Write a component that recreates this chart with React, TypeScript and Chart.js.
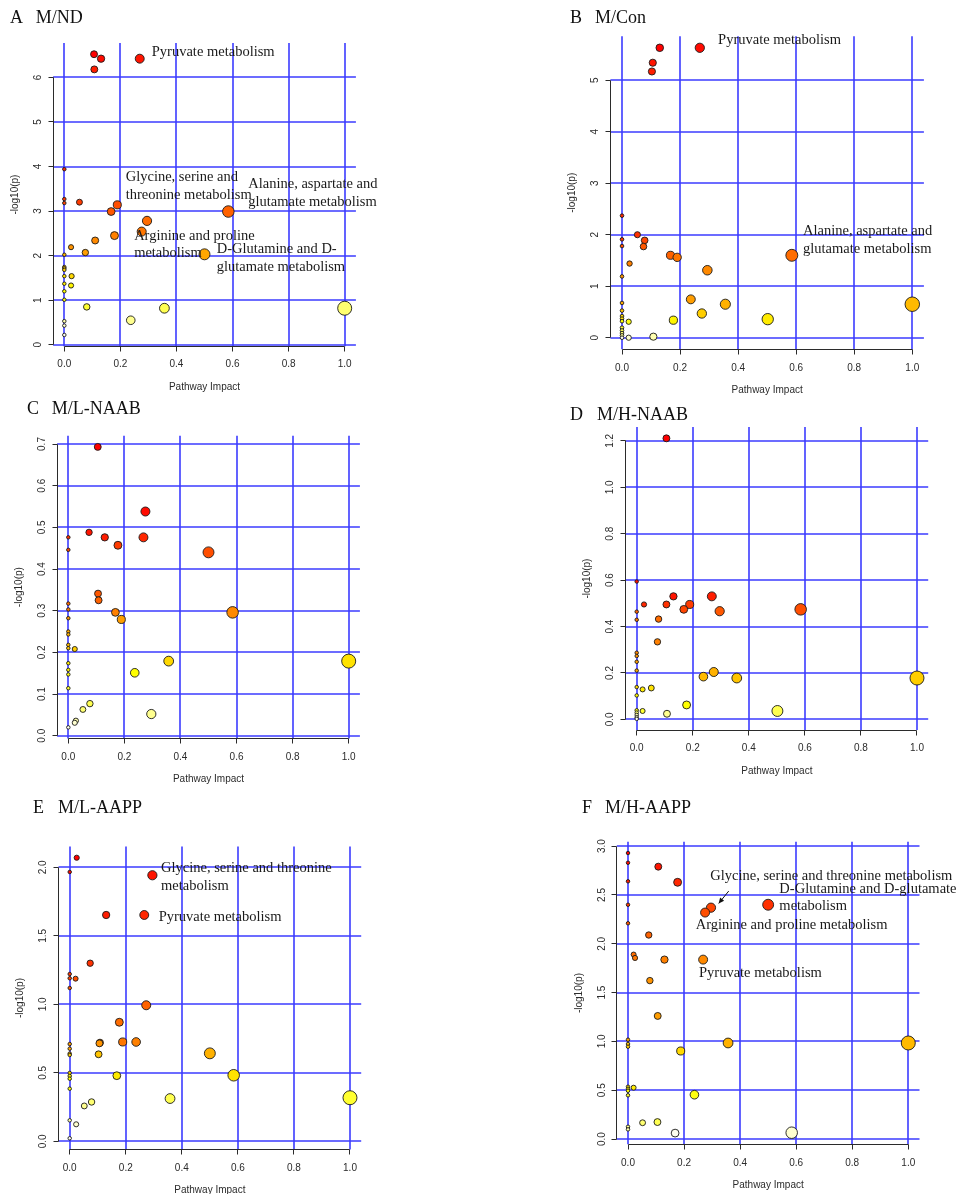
import React, { useEffect, useRef } from "react";
import { Chart, registerables } from "chart.js";

Chart.register(...registerables);

// Pathway impact ticks shared by every panel
const impactTicks = [0, 0.2, 0.4, 0.6, 0.8, 1.0];

// A  M/ND
const mndImpact = [0.106, 0.131, 0.269, 0.107, 0.054, 0.189, 0.167, 0.585, 0.295, 0.276, 0.179, 0.110, 0.024, 0.075, 0.500, 0.026, 0.024, 0.080, 0.357, 1.000, 0.237, 0, 0, 0, 0, 0, 0, 0, 0, 0, 0, 0, 0, 0, 0];
const mndLogP = [6.52, 6.42, 6.42, 6.18, 3.20, 3.14, 2.99, 2.99, 2.78, 2.54, 2.45, 2.34, 2.19, 2.07, 2.03, 1.54, 1.33, 0.85, 0.82, 0.82, 0.55, 3.94, 3.27, 3.18, 2.02, 1.745, 1.715, 1.68, 1.54, 1.37, 1.20, 1.01, 0.53, 0.43, 0.22];
const mndYTicks = [0, 1, 2, 3, 4, 5, 6];

// B  M/Con
const mconImpact = [0.130, 0.268, 0.106, 0.103, 0.053, 0.078, 0.074, 0.026, 0.167, 0.190, 0.294, 0.585, 0.237, 0.356, 0.275, 0.502, 1.000, 0.177, 0.023, 0.023, 0.108, 0, 0, 0, 0, 0, 0, 0, 0, 0, 0, 0, 0, 0, 0];
const mconLogP = [5.63, 5.63, 5.34, 5.17, 2.00, 1.89, 1.77, 1.44, 1.60, 1.56, 1.31, 1.60, 0.745, 0.65, 0.47, 0.36, 0.65, 0.34, 0.31, 0.00, 0.02, 2.37, 1.91, 1.78, 1.19, 0.675, 0.526, 0.42, 0.37, 0.32, 0.195, 0.14, 0.09, 0.045, 0.0];
const mconYTicks = [0, 1, 2, 3, 4, 5];

// C  M/L-NAAB
const mlnImpact = [0.105, 0.275, 0.074, 0.130, 0.268, 0.177, 0.500, 0.106, 0.108, 0.168, 0.586, 0.189, 0.023, 0.358, 1.000, 0.237, 0.077, 0.052, 0.296, 0.027, 0.023, 0, 0, 0, 0, 0, 0, 0, 0, 0, 0, 0, 0, 0, 0];
const mlnLogP = [0.693, 0.538, 0.488, 0.476, 0.476, 0.457, 0.440, 0.341, 0.325, 0.296, 0.296, 0.279, 0.208, 0.179, 0.179, 0.151, 0.077, 0.063, 0.052, 0.036, 0.031, 0.476, 0.446, 0.317, 0.303, 0.282, 0.250, 0.243, 0.218, 0.210, 0.174, 0.158, 0.147, 0.114, 0.020];
const mlnYTicks = [0, 0.1, 0.2, 0.3, 0.4, 0.5, 0.6, 0.7];

// D  M/H-NAAB
const mhnImpact = [0.106, 0.131, 0.268, 0.026, 0.106, 0.189, 0.168, 0.585, 0.296, 0.078, 0.074, 0.275, 0.238, 0.357, 1.000, 0.052, 0.021, 0.178, 0.021, 0.108, 0.502, 0, 0, 0, 0, 0, 0, 0, 0, 0, 0, 0, 0, 0, 0];
const mhnLogP = [1.211, 0.530, 0.530, 0.495, 0.495, 0.495, 0.474, 0.474, 0.466, 0.432, 0.334, 0.204, 0.184, 0.178, 0.178, 0.135, 0.129, 0.062, 0.036, 0.024, 0.036, 0.594, 0.464, 0.429, 0.287, 0.273, 0.248, 0.210, 0.139, 0.103, 0.039, 0.029, 0.019, 0.009, 0.002];
const mhnYTicks = [0, 0.2, 0.4, 0.6, 0.8, 1.0, 1.2];

// E  M/L-AAPP
const mlaImpact = [0.025, 0.295, 0.130, 0.266, 0.073, 0.021, 0.273, 0.177, 0.106, 0.108, 0.189, 0.237, 0.103, 0.500, 0.168, 0.585, 0.358, 1.000, 0.078, 0.052, 0.023, 0, 0, 0, 0, 0, 0, 0, 0, 0, 0, 0, 0, 0, 0];
const mlaLogP = [2.070, 1.942, 1.652, 1.652, 1.300, 1.187, 0.993, 0.869, 0.715, 0.720, 0.725, 0.725, 0.635, 0.642, 0.479, 0.482, 0.312, 0.318, 0.287, 0.258, 0.124, 1.966, 1.221, 1.190, 1.119, 0.710, 0.676, 0.640, 0.630, 0.499, 0.477, 0.457, 0.384, 0.153, 0.022];
const mlaYTicks = [0, 0.5, 1.0, 1.5, 2.0];

// F  M/H-AAPP
const mhaImpact = [0.108, 0.177, 0.500, 0.296, 0.275, 0.074, 0.020, 0.025, 0.130, 0.268, 0.078, 0.106, 0.357, 1.000, 0.188, 0.020, 0.237, 0.052, 0.105, 0.168, 0.584, 0, 0, 0, 0, 0, 0, 0, 0, 0, 0, 0, 0, 0, 0];
const mhaLogP = [2.79, 2.63, 2.40, 2.37, 2.32, 2.09, 1.89, 1.855, 1.838, 1.838, 1.623, 1.261, 0.984, 0.984, 0.902, 0.526, 0.454, 0.167, 0.174, 0.061, 0.065, 2.93, 2.83, 2.64, 2.40, 2.21, 1.018, 0.974, 0.946, 0.536, 0.515, 0.495, 0.448, 0.126, 0.099];
const mhaYTicks = [0, 0.5, 1.0, 1.5, 2.0, 2.5, 3.0];

type Note = { lines: string[]; x: number; y: number };
type Arrow = { from: [number, number]; to: [number, number] };

// Pathway name labels, anchored in data units (left edge, vertical middle)
const mndNotes: Note[] = [
  { lines: ["Pyruvate metabolism"], x: 0.312, y: 6.575 },
  { lines: ["Glycine, serine and", "threonine metabolism"], x: 0.219, y: 3.56 },
  { lines: ["Alanine, aspartate and", "glutamate metabolism"], x: 0.656, y: 3.4 },
  { lines: ["Arginine and proline", "metabolism"], x: 0.249, y: 2.243 },
  { lines: ["D-Glutamine and D-", "glutamate metabolism"], x: 0.5435, y: 1.94 },
];
const mconNotes: Note[] = [
  { lines: ["Pyruvate metabolism"], x: 0.331, y: 5.77 },
  { lines: ["Alanine, aspartate and", "glutamate metabolism"], x: 0.6235, y: 1.887 },
];
const mlaNotes: Note[] = [
  { lines: ["Glycine, serine and threonine", "metabolism"], x: 0.3257, y: 1.928 },
  { lines: ["Pyruvate metabolism"], x: 0.3175, y: 1.635 },
];
const mhaNotes: Note[] = [
  { lines: ["Glycine, serine and threonine metabolism"], x: 0.2937, y: 2.688 },
  { lines: ["D-Glutamine and D-glutamate", "metabolism"], x: 0.54, y: 2.471 },
  { lines: ["Arginine and proline metabolism"], x: 0.2414, y: 2.193 },
  { lines: ["Pyruvate metabolism"], x: 0.2533, y: 1.704 },
];
const mhaArrow: Arrow = { from: [0.3593, 2.54], to: [0.3236, 2.414] };

type Panel = {
  letter: string;
  name: string;
  impact: number[];
  logp: number[];
  yTicks: number[];
  yDigits: number;
  notes: Note[];
  arrow?: Arrow;
  frame: { x: number; y: number; w: number; h: number };
  box: { l: number; t: number; r: number; b: number };
  title: { lx: number; nx: number; by: number };
};

const panels: Panel[] = [
  {
    letter: "A", name: "M/ND", impact: mndImpact, logp: mndLogP, yTicks: mndYTicks, yDigits: 0, notes: mndNotes,
    frame: { x: 0, y: 0, w: 479, h: 398 },
    box: { l: 53.1, t: 43.0, r: 355.9, b: 346.2 },
    title: { lx: 10, nx: 35.7, by: 23.3 },
  },
  {
    letter: "B", name: "M/Con", impact: mconImpact, logp: mconLogP, yTicks: mconYTicks, yDigits: 0, notes: mconNotes,
    frame: { x: 479, y: 0, w: 479, h: 398 },
    box: { l: 610.4, t: 36.2, r: 923.9, b: 349.3 },
    title: { lx: 570, nx: 595, by: 23.3 },
  },
  {
    letter: "C", name: "M/L-NAAB", impact: mlnImpact, logp: mlnLogP, yTicks: mlnYTicks, yDigits: 1, notes: [],
    frame: { x: 0, y: 398, w: 479, h: 398 },
    box: { l: 57.1, t: 435.7, r: 359.9, b: 738.6 },
    title: { lx: 27, nx: 51.7, by: 414 },
  },
  {
    letter: "D", name: "M/H-NAAB", impact: mhnImpact, logp: mhnLogP, yTicks: mhnYTicks, yDigits: 1, notes: [],
    frame: { x: 479, y: 398, w: 479, h: 398 },
    box: { l: 625.5, t: 427.1, r: 928.2, b: 730.1 },
    title: { lx: 570, nx: 597, by: 419.5 },
  },
  {
    letter: "E", name: "M/L-AAPP", impact: mlaImpact, logp: mlaLogP, yTicks: mlaYTicks, yDigits: 1, notes: mlaNotes,
    frame: { x: 0, y: 796, w: 479, h: 398 },
    box: { l: 58.5, t: 846.5, r: 361.2, b: 1149.5 },
    title: { lx: 33, nx: 58, by: 812.5 },
  },
  {
    letter: "F", name: "M/H-AAPP", impact: mhaImpact, logp: mhaLogP, yTicks: mhaYTicks, yDigits: 1, notes: mhaNotes, arrow: mhaArrow,
    frame: { x: 479, y: 796, w: 479, h: 398 },
    box: { l: 616.8, t: 841.8, r: 919.5, b: 1144.3 },
    title: { lx: 582, nx: 605, by: 812.5 },
  },
];

const SANS = '"Liberation Sans", Arial, Helvetica, sans-serif';
const SERIF = '"Liberation Serif", "Times New Roman", Times, serif';
const GRID = "#3b3bff";
const INK = "#2b2b2b";

// snap a coordinate to the middle of a device pixel for crisp 1px strokes
const snap = (v: number) => Math.round(v - 0.5) + 0.5;

// R's heat.colors(n): red -> yellow ramp, then a fading pale-yellow tail
function heatColors(n: number): string[] {
  const j = Math.floor(n / 4);
  const i = n - j;
  const out: string[] = [];
  for (let k = 0; k < i; k++) {
    const g = i > 1 ? k / (i - 1) : 0;
    out.push(`rgb(255,${Math.round(255 * g)},0)`);
  }
  const s0 = 1 - 1 / (2 * j);
  const s1 = 1 / (2 * j);
  for (let k = 0; k < j; k++) {
    const s = j > 1 ? s0 + ((s1 - s0) * k) / (j - 1) : s0;
    out.push(`rgb(255,255,${Math.round(255 * (1 - s))})`);
  }
  return out;
}

function buildChart(canvas: HTMLCanvasElement, p: Panel): Chart {
  // order by -log10(p), highest first, so lower pathways are drawn on top
  const pts = p.impact
    .map((x, k) => ({ x, y: p.logp[k] }))
    .sort((a, b) => b.y - a.y);
  const colors = heatColors(pts.length);

  const yLo = Math.min(...p.logp);
  const yHi = Math.max(...p.logp);
  const yPad = (yHi - yLo) * 0.04;
  const xLo = 0;
  const xHi = 1;
  const xPad = (xHi - xLo) * 0.04;

  // circle radius in impact units (sqrt scaled), as in the pathway summary plot
  const sq = pts.map((d) => Math.sqrt(d.x));
  const sMin = Math.min(...sq);
  const sMax = Math.max(...sq);
  const maxR = (sMax - sMin) / 40;
  const minR = (sMax - sMin) / 160;
  const radiusUnits = (x: number) => minR + ((maxR - minR) * (Math.sqrt(x) - sMin)) / (sMax - sMin);

  const fx = p.frame.x;
  const fy = p.frame.y;

  const panelPlugin = {
    id: "panelDecor" + p.letter,
    beforeDatasetsDraw(chart: Chart) {
      const { ctx, chartArea: a } = chart;
      const xs = chart.scales.x;
      const ys = chart.scales.y;
      ctx.save();
      ctx.strokeStyle = GRID;
      ctx.lineWidth = 1.6;
      for (const v of impactTicks) {
        const px = Math.round(xs.getPixelForValue(v));
        ctx.beginPath();
        ctx.moveTo(px, a.top);
        ctx.lineTo(px, a.bottom);
        ctx.stroke();
      }
      for (const v of p.yTicks) {
        const py = Math.round(ys.getPixelForValue(v));
        ctx.beginPath();
        ctx.moveTo(a.left, py);
        ctx.lineTo(a.right, py);
        ctx.stroke();
      }
      ctx.restore();
    },
    afterDraw(chart: Chart) {
      const { ctx, chartArea: a } = chart;
      const xs = chart.scales.x;
      const ys = chart.scales.y;
      ctx.save();
      // axes
      ctx.strokeStyle = INK;
      ctx.lineWidth = 1;
      const ax0 = snap(a.left);
      const ay0 = snap(a.bottom);
      const y0 = snap(ys.getPixelForValue(p.yTicks[0]));
      const y1 = snap(ys.getPixelForValue(p.yTicks[p.yTicks.length - 1]));
      ctx.beginPath();
      ctx.moveTo(ax0, y0);
      ctx.lineTo(ax0, y1);
      for (const v of p.yTicks) {
        const py = snap(ys.getPixelForValue(v));
        ctx.moveTo(ax0, py);
        ctx.lineTo(ax0 - 5, py);
      }
      const x0 = snap(xs.getPixelForValue(impactTicks[0]));
      const x1 = snap(xs.getPixelForValue(impactTicks[impactTicks.length - 1]));
      ctx.moveTo(x0, ay0);
      ctx.lineTo(x1, ay0);
      for (const v of impactTicks) {
        const px = snap(xs.getPixelForValue(v));
        ctx.moveTo(px, ay0);
        ctx.lineTo(px, ay0 + 5);
      }
      ctx.stroke();

      // tick labels
      ctx.fillStyle = INK;
      ctx.font = `10px ${SANS}`;
      ctx.textAlign = "center";
      ctx.textBaseline = "middle";
      for (const v of impactTicks) {
        ctx.fillText(v.toFixed(1), xs.getPixelForValue(v), a.bottom + 18.5);
      }
      for (const v of p.yTicks) {
        ctx.save();
        ctx.translate(a.left - 15, ys.getPixelForValue(v));
        ctx.rotate(-Math.PI / 2);
        ctx.fillText(v.toFixed(p.yDigits), 0, 0);
        ctx.restore();
      }
      // axis titles
      ctx.fillText("Pathway Impact", (a.left + a.right) / 2, a.bottom + 41);
      ctx.save();
      ctx.translate(a.left - 38, (a.top + a.bottom) / 2);
      ctx.rotate(-Math.PI / 2);
      ctx.fillText("-log10(p)", 0, 0);
      ctx.restore();

      // panel title
      ctx.fillStyle = "#111";
      ctx.font = `18px ${SERIF}`;
      ctx.textAlign = "left";
      ctx.textBaseline = "alphabetic";
      ctx.fillText(p.letter, p.title.lx - fx, p.title.by - fy);
      ctx.fillText(p.name, p.title.nx - fx, p.title.by - fy);

      // pathway labels
      ctx.fillStyle = "#1a1a1a";
      ctx.font = `14.5px ${SERIF}`;
      ctx.textBaseline = "middle";
      const lh = 17.7;
      for (const n of p.notes) {
        const px = xs.getPixelForValue(n.x);
        const py = ys.getPixelForValue(n.y);
        n.lines.forEach((line, k) => {
          ctx.fillText(line, px, py + (k - (n.lines.length - 1) / 2) * lh);
        });
      }

      // pointer arrow
      if (p.arrow) {
        const ax = xs.getPixelForValue(p.arrow.from[0]);
        const ay = ys.getPixelForValue(p.arrow.from[1]);
        const bx = xs.getPixelForValue(p.arrow.to[0]);
        const by = ys.getPixelForValue(p.arrow.to[1]);
        const ang = Math.atan2(by - ay, bx - ax);
        ctx.strokeStyle = "#111";
        ctx.fillStyle = "#111";
        ctx.lineWidth = 1;
        ctx.beginPath();
        ctx.moveTo(ax, ay);
        ctx.lineTo(bx, by);
        ctx.stroke();
        const hl = 6;
        ctx.beginPath();
        ctx.moveTo(bx, by);
        ctx.lineTo(bx - hl * Math.cos(ang - 0.45), by - hl * Math.sin(ang - 0.45));
        ctx.lineTo(bx - hl * Math.cos(ang + 0.45), by - hl * Math.sin(ang + 0.45));
        ctx.closePath();
        ctx.fill();
      }
      ctx.restore();
    },
  };

  return new Chart(canvas, {
    type: "scatter",
    data: {
      datasets: [
        {
          data: pts,
          clip: false,
          backgroundColor: (c: any) => colors[c.dataIndex] ?? "#fff",
          borderColor: "#1a1a1a",
          borderWidth: 0.9,
          pointRadius: (c: any) => {
            const raw = c.raw as { x: number } | undefined;
            if (!raw) return 2;
            const s = c.chart.scales.x;
            return Math.abs(s.getPixelForValue(radiusUnits(raw.x)) - s.getPixelForValue(0));
          },
          pointHoverRadius: 0,
        } as any,
      ],
    },
    options: {
      animation: false,
      responsive: false,
      maintainAspectRatio: false,
      devicePixelRatio: 1,
      events: [],
      layout: {
        padding: {
          left: p.box.l - fx,
          top: p.box.t - fy,
          right: fx + p.frame.w - p.box.r,
          bottom: fy + p.frame.h - p.box.b,
        },
      },
      plugins: { legend: { display: false }, tooltip: { enabled: false }, title: { display: false } },
      scales: {
        x: { type: "linear", min: xLo - xPad, max: xHi + xPad, display: false },
        y: { type: "linear", min: yLo - yPad, max: yHi + yPad, display: false },
      },
    },
    plugins: [panelPlugin as any],
  });
}

export default function App() {
  const refs = useRef<(HTMLCanvasElement | null)[]>([]);

  useEffect(() => {
    const charts = panels.map((p, k) => buildChart(refs.current[k] as HTMLCanvasElement, p));
    return () => charts.forEach((c) => c.destroy());
  }, []);

  return (
    <div style={{ position: "absolute", left: 0, top: 0, width: 958, height: 1194, background: "#fff", overflow: "hidden" }}>
      {panels.map((p, k) => (
        <canvas
          key={p.letter}
          ref={(el) => {
            refs.current[k] = el;
          }}
          width={p.frame.w}
          height={p.frame.h}
          style={{ position: "absolute", left: p.frame.x, top: p.frame.y, width: p.frame.w, height: p.frame.h }}
        />
      ))}
    </div>
  );
}
